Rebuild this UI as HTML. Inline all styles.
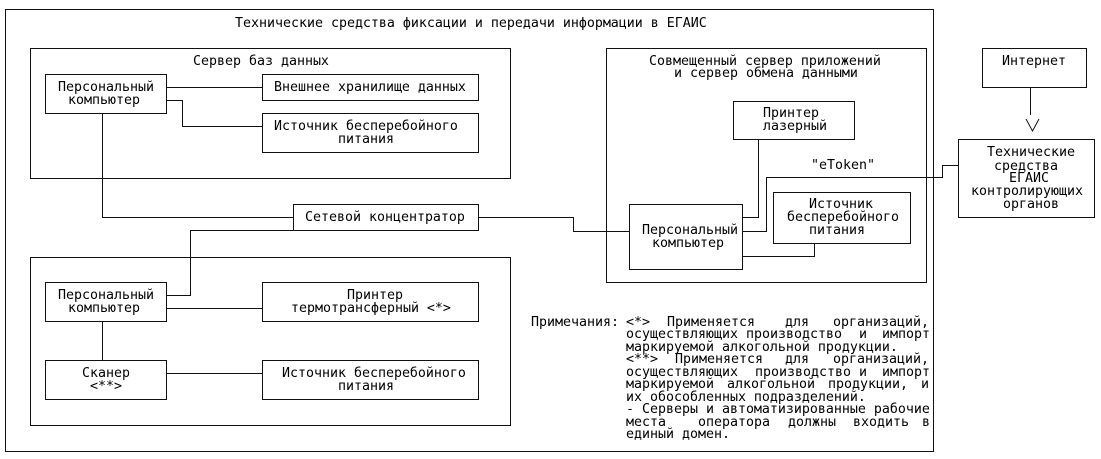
<!DOCTYPE html>
<html><head><meta charset="utf-8">
<style>
html,body{margin:0;padding:0;background:#fff;}
svg{display:block;}
text{font-family:"DejaVu Sans Mono","Liberation Mono","Noto Sans CJK SC",monospace;font-size:13.29px;fill:#000;}
</style></head>
<body>
<svg width="1101" height="459" viewBox="0 0 1101 459" xmlns="http://www.w3.org/2000/svg">
<rect x="0" y="0" width="1101" height="459" fill="#fff"/>
<g fill="none" stroke="#111" stroke-width="1">
<!-- outer -->
<rect x="5.5" y="9.5" width="928" height="442"/>
<!-- DB server -->
<rect x="30.5" y="48.5" width="480" height="130"/>
<rect x="45.5" y="74.5" width="121" height="39"/>
<rect x="262.5" y="74.5" width="216" height="26"/>
<rect x="262.5" y="113.5" width="216" height="39"/>
<polyline points="166.5,87.5 262.5,87.5"/>
<polyline points="166.5,100.5 182.5,100.5 182.5,126.5 262.5,126.5"/>
<polyline points="102.5,113.5 102.5,217.5 293.5,217.5"/>
<!-- hub -->
<rect x="293.5" y="204.5" width="185" height="26"/>
<polyline points="478.5,217.5 573.5,217.5 573.5,231.5 629.5,231.5"/>
<polyline points="293.5,230.5 190.5,230.5 190.5,295.5 166.5,295.5"/>
<!-- lower box -->
<rect x="30.5" y="257.5" width="480" height="168"/>
<rect x="45.5" y="282.5" width="121" height="39"/>
<rect x="262.5" y="282.5" width="216" height="39"/>
<rect x="45.5" y="360.5" width="121" height="39"/>
<rect x="262.5" y="360.5" width="216" height="39"/>
<polyline points="166.5,308.5 262.5,308.5"/>
<polyline points="102.5,321.5 102.5,360.5"/>
<polyline points="166.5,373.5 262.5,373.5"/>
<!-- right server -->
<rect x="606.5" y="48.5" width="320" height="234"/>
<rect x="733.5" y="101.5" width="121" height="38"/>
<rect x="629.5" y="204.5" width="113" height="65"/>
<rect x="773.5" y="192.5" width="137" height="51"/>
<polyline points="742.5,217.5 758.5,217.5 758.5,139.5"/>
<polyline points="742.5,231.5 766.5,231.5 766.5,177.5 942.5,177.5 942.5,165.5 958.5,165.5"/>
<polyline points="742.5,256.5 814.5,256.5 814.5,243.5"/>
<!-- internet -->
<rect x="982.5" y="48.5" width="104" height="39"/>
<polyline points="1030.5,87.5 1030.5,115"/>
<polyline points="1026,119 1032.5,131 1039,119"/>
<rect x="958.5" y="139.5" width="136" height="78"/>
</g>

<!-- titles -->
<text x="235" y="27">Технические средства фиксации и передачи информации в ЕГАИС</text>
<text x="193" y="65">Сервер баз данных</text>
<text x="58" y="91">Персональный</text>
<text x="68" y="104">компьютер</text>
<text x="274" y="91">Внешнее хранилище данных</text>
<text x="274" y="130">Источник бесперебойного</text>
<text x="338" y="143">питания</text>
<text x="305" y="221">Сетевой концентратор</text>

<text x="649" y="65">Совмещенный сервер приложений</text>
<text x="674" y="77">и сервер обмена данными</text>
<text x="763" y="117">Принтер</text>
<text x="763" y="130">лазерный</text>
<text x="811" y="169">"eToken"</text>
<text x="809" y="208">Источник</text>
<text x="787" y="221">бесперебойного</text>
<text x="809" y="234">питания</text>
<text x="642" y="234">Персональный</text>
<text x="652" y="247">компьютер</text>

<text x="1002" y="65">Интернет</text>
<text x="987" y="156">Технические</text>
<text x="994" y="170">средства</text>
<text x="1009" y="182">ЕГАИС</text>
<text x="971" y="195">контролирующих</text>
<text x="1003" y="208">органов</text>

<text x="58" y="299">Персональный</text>
<text x="68" y="312">компьютер</text>
<text x="347" y="299">Принтер</text>
<text x="291" y="312">термотрансферный &lt;*&gt;</text>
<text x="82" y="377">Сканер</text>
<text x="90" y="390">&lt;**&gt;</text>
<text x="282" y="377">Источник бесперебойного</text>
<text x="338" y="390">питания</text>

<!-- notes -->
<text x="531" y="326">Примечания:</text>
<text x="626" y="326">&lt;*&gt;</text><text x="667" y="326">Применяется</text><text x="785" y="326">для</text><text x="833" y="326">организаций,</text>
<text x="626" y="338">осуществляющих</text><text x="746" y="338">производство</text><text x="859" y="338">и</text><text x="882" y="338">импорт</text>
<text x="626" y="351">маркируемой алкогольной продукции.</text>
<text x="626" y="363">&lt;**&gt;</text><text x="675" y="363">Применяется</text><text x="785" y="363">для</text><text x="833" y="363">организаций,</text>
<text x="626" y="376">осуществляющих</text><text x="755" y="376">производство</text><text x="859" y="376">и</text><text x="882" y="376">импорт</text>
<text x="626" y="388">маркируемой</text><text x="727" y="388">алкогольной</text><text x="828" y="388">продукции,</text><text x="921" y="388">и</text>
<text x="626" y="401">их обособленных подразделений.</text>
<text x="626" y="413">- Серверы и автоматизированные рабочие</text>
<text x="626" y="426">места</text><text x="698" y="426">оператора</text><text x="788" y="426">должны</text><text x="853" y="426">входить</text><text x="922" y="426">в</text>
<text x="626" y="438">единый домен.</text>
</svg>
</body></html>
